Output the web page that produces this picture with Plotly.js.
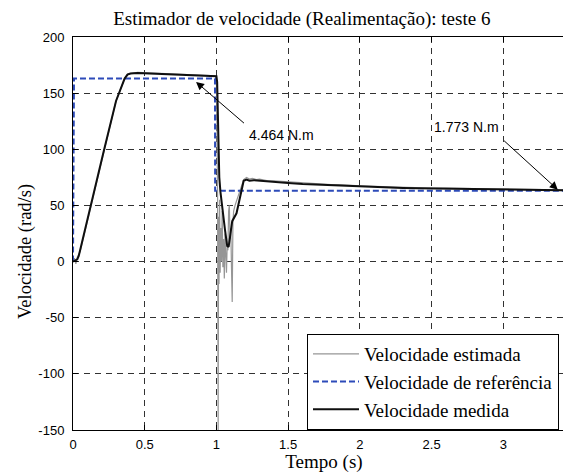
<!DOCTYPE html>
<html>
<head>
<meta charset="utf-8">
<script src="https://cdn.plot.ly/plotly-3.0.1.min.js"></script>
<style>
html,body{margin:0;padding:0;overflow:hidden;background:#fff;width:563px;height:473px;}
#chart{width:600px;height:473px;}
</style>
</head>
<body>
<div id="chart"></div>
<script>
// Reference speed
var tRef = [0, 0.007, 0.99, 0.991, 3.5];
var vRef = [0, 163, 163, 63, 63];

// Measured speed
var tMed = [0, 0.015, 0.03, 0.04, 0.08, 0.13, 0.21, 0.30, 0.36, 0.38, 0.40, 0.45, 0.55, 0.65, 0.75, 0.85, 0.95, 0.99, 1.0, 1.005, 1.012, 1.02, 1.028, 1.04, 1.06, 1.075, 1.085, 1.095, 1.11, 1.14, 1.17, 1.19, 1.21, 1.23, 1.26, 1.3, 1.35, 1.4, 1.45, 1.5, 1.6, 1.7, 1.8, 1.9, 2.0, 2.1, 2.2, 2.3, 2.4, 2.5, 2.6, 2.7, 2.8, 2.9, 3.0, 3.1, 3.2, 3.3, 3.4, 3.5];
var vMed = [0, 1, 2, 5, 27, 52, 96, 143, 163, 166.5, 167.5, 168, 167.5, 167, 166.5, 166, 165.5, 165, 165, 160, 110, 75, 62, 48, 28, 14, 13, 22, 36, 43, 60, 72, 73, 72, 72.5, 72, 71.5, 71, 70.5, 70, 69, 68.5, 67.5, 67, 66.5, 66, 66, 65.5, 65.2, 65, 64.8, 64.5, 64.3, 64, 64, 63.8, 63.7, 63.6, 63.5, 63.5];

// Estimated speed
var tEst = [0, 0.01, 0.02, 0.03, 0.05, 0.13, 0.21, 0.30, 0.36, 0.38, 0.45, 0.55, 0.65, 0.75, 0.85, 0.95, 0.99, 1.0, 1.004, 1.008, 1.012, 1.015, 1.018, 1.022, 1.026, 1.03, 1.035, 1.04, 1.045, 1.05, 1.055, 1.06, 1.065, 1.07, 1.075, 1.08, 1.085, 1.09, 1.095, 1.10, 1.105, 1.11, 1.115, 1.12, 1.13, 1.15, 1.17, 1.19, 1.21, 1.23, 1.25, 1.28, 1.3, 1.33, 1.36, 1.4, 1.45, 1.5, 1.55, 1.6, 1.65, 1.7, 1.75, 1.8, 1.85, 1.9, 1.95, 2.0, 2.1, 2.2, 2.3, 2.4, 2.5, 2.6, 2.7, 2.8, 2.9, 3.0, 3.1, 3.2, 3.3, 3.4, 3.5];
var vEst = [0, 3, -2, 4, 9, 52, 96, 143, 163, 167, 168.5, 168, 167.5, 167, 166.5, 166, 165.5, 163, 120, 60, -150, 40, -20, 55, -10, 30, 0, 45, -5, 20, -15, 25, 5, -10, 15, 10, 45, 50, 20, 30, -5, -36, 35, 45, 50, 58, 66, 73, 75, 73.5, 74, 73, 73.5, 72.5, 72, 72, 71.5, 71, 71, 70, 70, 69.5, 69, 68.5, 68.5, 68, 67.5, 67.5, 67, 66.5, 66.5, 66, 65.5, 65.5, 65, 65, 64.7, 64.5, 64.3, 64.2, 64, 64, 63.8];

var xTicks = [0, 0.5, 1, 1.5, 2, 2.5, 3];
var xTickText = ['0', '0.5', '1', '1.5', '2', '2.5', '3'];
var yTicks = [-150, -100, -50, 0, 50, 100, 150, 200];
var yTickText = ['-150', '-100', '-50', '0', '50', '100', '150', '200'];

var serif = 'Liberation Serif';
var sans = 'Liberation Sans';

var traces = [
  {x: tEst, y: vEst, mode: 'lines', name: 'Velocidade estimada',
   line: {color: 'rgb(150,150,150)', width: 1.2}},
  {x: tRef, y: vRef, mode: 'lines', name: 'Velocidade de referência',
   line: {color: 'rgb(45,75,185)', width: 2, dash: '6px,3px'}},
  {x: tMed, y: vMed, mode: 'lines', name: 'Velocidade medida',
   line: {color: 'rgb(15,15,15)', width: 2}}
];

var axisCommon = {
  showline: true, linecolor: '#000', linewidth: 1, mirror: 'ticks',
  ticks: 'inside', ticklen: 5, tickcolor: '#000',
  showgrid: true, gridcolor: 'rgb(50,50,50)', griddash: '6px,5px', gridwidth: 1,
  zeroline: false,
  tickfont: {family: sans, size: 13, color: '#000'}
};

var layout = {
  width: 600, height: 473,
  margin: {l: 73, r: 25, t: 37, b: 43},
  paper_bgcolor: '#fff', plot_bgcolor: '#fff',
  font: {family: serif, color: '#000'},
  title: {text: 'Estimador de velocidade (Realimentação): teste 6',
          font: {family: serif, size: 19, color: '#000'},
          xref: 'container', x: 0.503, xanchor: 'center',
          yref: 'container', y: 0.962, yanchor: 'middle'},
  xaxis: Object.assign({}, axisCommon, {
    range: [0, 3.5], tickvals: xTicks, ticktext: xTickText,
    ticklabelstandoff: 2,
    title: {text: 'Tempo (s)', font: {family: serif, size: 19, color: '#000'}, standoff: 5}
  }),
  yaxis: Object.assign({}, axisCommon, {
    range: [-150, 200], tickvals: yTicks, ticktext: yTickText,
    ticklabelstandoff: 5
  }),
  showlegend: true,
  legend: {
    x: (307 - 73) / 502, xanchor: 'left', y: 0, yanchor: 'bottom',
    bgcolor: '#fff', bordercolor: '#000', borderwidth: 1,
    font: {family: serif, size: 19, color: '#000'},
    itemwidth: 46, tracegroupgap: 0
  },
  annotations: [
    {x: (25 - 73) / 502, y: (430 - 252) / 393, xref: 'paper', yref: 'paper',
     text: 'Velocidade (rad/s)', textangle: -90, showarrow: false,
     xanchor: 'center', yanchor: 'middle',
     font: {family: serif, size: 18.5, color: '#000'}},
    {x: 0.858, y: 160, xref: 'x', yref: 'y', ax: 1.213, ay: 121, axref: 'x', ayref: 'y',
     text: ' ', showarrow: true, arrowhead: 2, arrowsize: 1.6, arrowwidth: 1, arrowcolor: '#000', standoff: 0, startstandoff: 0},
    {x: 1.213, y: 113, xref: 'x', yref: 'y', text: '4.464 N.m', showarrow: false,
     xanchor: 'left', yanchor: 'middle', font: {family: sans, size: 14, color: '#000'}},
    {x: 3.38, y: 64, xref: 'x', yref: 'y', ax: 2.985, ay: 110, axref: 'x', ayref: 'y',
     text: ' ', showarrow: true, arrowhead: 2, arrowsize: 1.6, arrowwidth: 1, arrowcolor: '#000', standoff: 0, startstandoff: 0},
    {x: 2.505, y: 119.5, xref: 'x', yref: 'y', text: '1.773 N.m', showarrow: false,
     xanchor: 'left', yanchor: 'middle', font: {family: sans, size: 14, color: '#000'}}
  ]
};

Plotly.newPlot('chart', traces, layout, {displayModeBar: false, staticPlot: true});
</script>
</body>
</html>
